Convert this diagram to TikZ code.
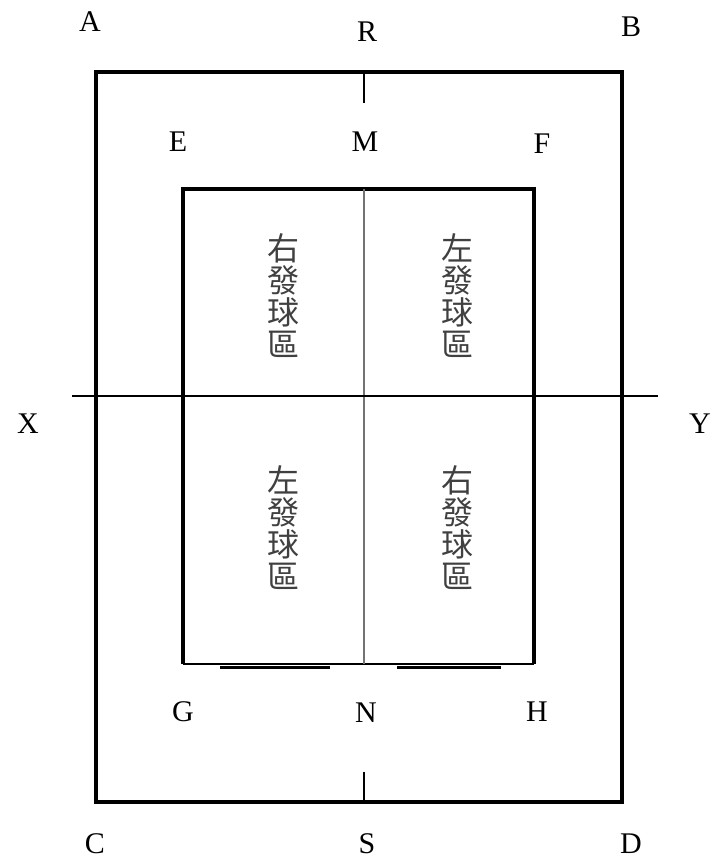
\documentclass[tikz,border=0pt]{standalone}
\usepackage{fontspec}
\setmainfont{Liberation Serif}
\newfontfamily\cjk{Noto Sans CJK TC}
\usetikzlibrary{positioning}

\begin{document}
\begin{tikzpicture}[x=1pt,y=-1pt,
    lbl/.style={inner sep=0pt,font=\fontsize{30}{32}\selectfont},
    zone/.style={inner sep=0pt,align=center,text=black!75,
      font=\cjk\fontsize{32}{32}\selectfont},
    thick line/.style={line width=3.5pt}]
    \useasboundingbox (0,0) rectangle (713,859);
    % outer court
    \coordinate (a) at (96,72);
    \coordinate (d) at (622,802);
    \draw [thick line] (a) rectangle (d);
    % inner court
    \coordinate (e) at (183,189);
    \coordinate (h) at (534,664);
    \coordinate (g) at (183,664);
    \coordinate (f) at (534,189);
    \coordinate (m) at (364,189);
    \coordinate (n) at (364,664);
    \draw [thick line] (g) -- (e) -- (f) -- (h);
    \draw [line width=1.2pt] (g) -- (h);
    \draw [line width=3pt] (220,667) coordinate (gl) -- (330,667) coordinate (gr);
    \draw [line width=3pt] (397,667) coordinate (hl) -- (501,667) coordinate (hr);
    \draw [line width=1.2pt, black!55] (m) -- (n);
    % ticks
    \coordinate (r) at (364,72);
    \coordinate (rt) at (364,103);
    \coordinate (s) at (364,802);
    \coordinate (st) at (364,772);
    \draw [line width=2pt] (r) -- (rt);
    \draw [line width=2pt] (s) -- (st);
    % centre line
    \coordinate (x) at (72,396);
    \coordinate (y) at (658,396);
    \draw [line width=2pt] (x) -- (y);
    % letters
    \node [lbl] (A) at (90,22) {A};
    \node [lbl] (R) at (367,32) {R};
    \node [lbl] (B) at (631,27) {B};
    \node [lbl] (E) at (178,142) {E};
    \node [lbl] (M) at (365,142) {M};
    \node [lbl] (F) at (542,144) {F};
    \node [lbl] (X) at (28,424) {X};
    \node [lbl] (Y) at (700,424) {Y};
    \node [lbl] (G) at (183,712) {G};
    \node [lbl] (N) at (366,713) {N};
    \node [lbl] (H) at (537,712) {H};
    \node [lbl] (C) at (95,844) {C};
    \node [lbl] (S) at (367,844) {S};
    \node [lbl] (D) at (631,844) {D};
    % service zones
    \node [zone] (z1) at (283,296) {右\\發\\球\\區};
    \node [zone] (z2) at (457,296) {左\\發\\球\\區};
    \node [zone] (z3) at (283,528) {左\\發\\球\\區};
    \node [zone] (z4) at (457,528) {右\\發\\球\\區};
\end{tikzpicture}
\end{document}
